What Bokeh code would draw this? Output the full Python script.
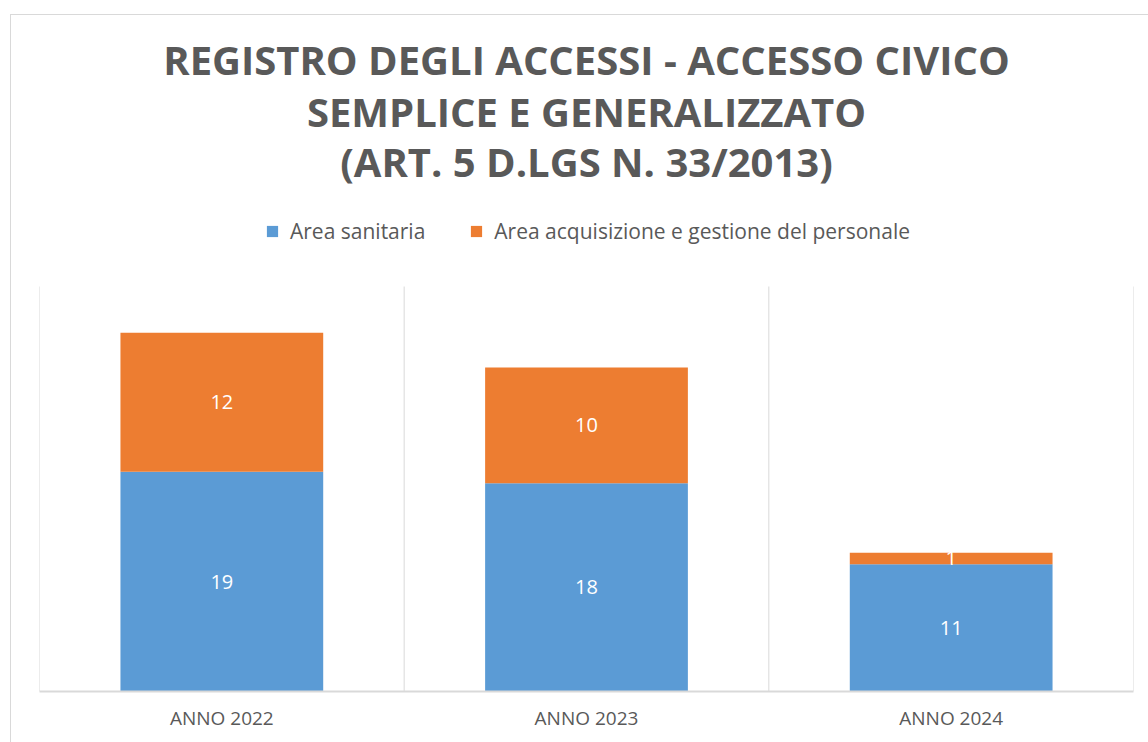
from bokeh.plotting import figure
from bokeh.models import ColumnDataSource, Legend, LegendItem, Label
from bokeh.core.properties import value
from bokeh.embed import file_html
from bokeh.resources import INLINE

categories = ["ANNO 2022", "ANNO 2023", "ANNO 2024"]
area_sanitaria = [19, 18, 11]
area_personale = [12, 10, 1]
series_names = ["Area sanitaria", "Area acquisizione e gestione del personale"]
title_lines = ["REGISTRO DEGLI ACCESSI - ACCESSO CIVICO",
               "SEMPLICE E GENERALIZZATO",
               "(ART. 5 D.LGS N. 33/2013)"]
y_max = 35

BLUE = "#5B9BD5"
ORANGE = "#ED7D31"
GREY = "#595959"
GRID = "#D9D9D9"

# layout geometry (pixels)
FIG_W, FIG_H = 1138, 728
BORDER_L, BORDER_R, BORDER_B = 28, 16, 52
PLOT_H = 405  # height of the bar area inside the frame
frame_h = FIG_H - BORDER_B
y_end = y_max * frame_h / PLOT_H

tops = [a + b for a, b in zip(area_sanitaria, area_personale)]
src = ColumnDataSource(dict(
    cat=categories,
    san=area_sanitaria,
    per=area_personale,
    top=tops,
    san_mid=[a / 2 for a in area_sanitaria],
    per_mid=[a + b / 2 for a, b in zip(area_sanitaria, area_personale)],
    san_txt=[str(v) for v in area_sanitaria],
    per_txt=[str(v) for v in area_personale],
))

p = figure(x_range=categories, y_range=(0, y_end), width=FIG_W, height=FIG_H, title=None,
           output_backend="svg", toolbar_location=None,
           min_border_left=BORDER_L, min_border_right=BORDER_R, min_border_top=0,
           min_border_bottom=BORDER_B)
p.margin = (14, 0, 0, 10)
p.styles = {"border-top": "1px solid #D9D9D9", "border-left": "1px solid #D9D9D9"}
p.outline_line_color = None
p.background_fill_color = "white"
p.border_fill_color = "white"
p.yaxis.visible = False
p.ygrid.visible = False
p.xgrid.visible = False

bounds = list(range(len(categories) + 1))
p.segment(x0=bounds, x1=bounds, y0=[0] * len(bounds), y1=[y_max] * len(bounds),
          line_color=GRID, line_width=1)

r1 = p.vbar(x="cat", bottom=0, top="san", width=0.556, source=src, fill_color=BLUE, line_color=None)
r2 = p.vbar(x="cat", bottom="san", top="top", width=0.556, source=src, fill_color=ORANGE, line_color=None)

p.text(x="cat", y="san_mid", text="san_txt", source=src, text_color="white",
       text_font=value("Open Sans"), text_font_size="20px", text_align="center", text_baseline="middle")
p.text(x="cat", y="per_mid", text="per_txt", source=src, text_color="white",
       text_font=value("Open Sans"), text_font_size="20px", text_align="center", text_baseline="middle")

ax = p.xaxis[0]
ax.axis_line_color = GRID
ax.axis_line_width = 2
ax.major_tick_line_color = None
ax.minor_tick_line_color = None
ax.major_tick_out = 0
ax.major_label_standoff = 13
ax.major_label_text_font = "Open Sans"
ax.major_label_text_font_size = "19px"
ax.major_label_text_color = GREY

legend = Legend(items=[LegendItem(label=series_names[0], renderers=[r1]),
                       LegendItem(label=series_names[1], renderers=[r2])],
                orientation="horizontal", location=(226, 446),
                label_text_font="Open Sans", label_text_font_size="21px", label_text_color=GREY,
                glyph_width=14, glyph_height=14, label_standoff=11, spacing=44,
                padding=0, margin=0, border_line_color=None, background_fill_alpha=0)
p.add_layout(legend, "center")

title_y = [632, 580, 530]
for t, y in zip(title_lines, title_y):
    p.add_layout(Label(x=547, y=y, x_units="screen", y_units="screen", text=t,
                       text_font="Open Sans", text_font_style="bold", text_font_size="40px",
                       text_color=GREY, text_align="center", text_baseline="alphabetic"))

open("out.html", "w").write(file_html(p, INLINE))
